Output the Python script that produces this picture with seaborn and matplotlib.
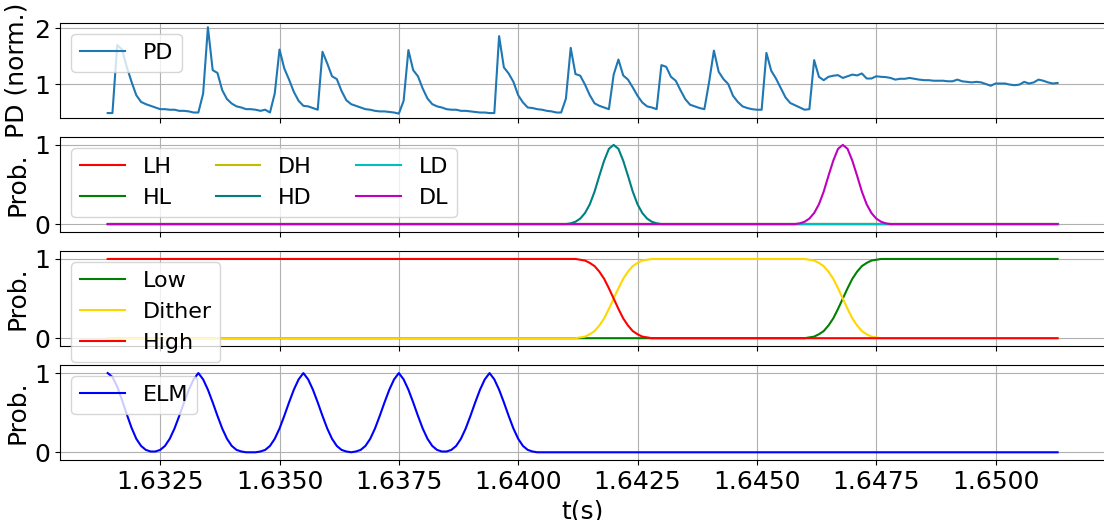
"""
Four stacked panels: PD signal, transition probabilities, state probabilities, ELM probability
"""
import matplotlib
matplotlib.use("Agg")
import matplotlib.pyplot as plt
import numpy as np
import seaborn as sns

# time axis (one sample every 0.1 ms)
t_start, t_end, n_pts = 1.6314, 1.6513, 200
t = np.linspace(t_start, t_end, n_pts)

# normalised photodiode signal
pd_norm = [0.48, 0.48, 1.70, 1.62, 1.31, 1.04, 0.80, 0.68, 0.64, 0.61,
           0.58, 0.55, 0.55, 0.54, 0.54, 0.52, 0.52, 0.51, 0.49, 0.49,
           0.83, 2.02, 1.25, 1.20, 0.89, 0.73, 0.65, 0.60, 0.58, 0.55,
           0.55, 0.54, 0.52, 0.54, 0.49, 0.83, 1.62, 1.28, 1.08, 0.86,
           0.70, 0.61, 0.60, 0.57, 0.54, 1.58, 1.37, 1.14, 1.09, 0.875,
           0.71, 0.64, 0.61, 0.58, 0.55, 0.54, 0.52, 0.51, 0.51, 0.50,
           0.49, 0.47, 0.70, 1.61, 1.25, 1.14, 0.92, 0.74, 0.64, 0.60,
           0.58, 0.55, 0.54, 0.54, 0.52, 0.52, 0.51, 0.50, 0.49, 0.49,
           0.48, 0.48, 1.86, 1.30, 1.19, 1.04, 0.80, 0.67, 0.58, 0.57,
           0.55, 0.54, 0.52, 0.51, 0.49, 0.49, 0.74, 1.65, 1.18, 1.15,
           0.99, 0.80, 0.655, 0.61, 0.58, 0.55, 1.17, 1.44, 1.155, 1.08,
           0.94, 0.79, 0.67, 0.60, 0.58, 0.55, 1.34, 1.31, 1.13, 1.06,
           0.89, 0.73, 0.63, 0.60, 0.57, 0.55, 1.04, 1.60, 1.22, 1.09,
           1.00, 0.79, 0.68, 0.60, 0.57, 0.55, 0.54, 0.54, 1.56, 1.24,
           1.10, 0.93, 0.76, 0.66, 0.62, 0.58, 0.54, 0.55, 1.43, 1.13,
           1.07, 1.13, 1.15, 1.16, 1.11, 1.14, 1.17, 1.155, 1.19, 1.10,
           1.10, 1.14, 1.13, 1.125, 1.11, 1.08, 1.095, 1.095, 1.11, 1.095,
           1.08, 1.07, 1.07, 1.06, 1.06, 1.06, 1.05, 1.05, 1.08, 1.05,
           1.04, 1.03, 1.04, 1.03, 1.00, 0.97, 1.01, 1.01, 1.01, 0.99,
           0.98, 0.99, 1.04, 1.01, 1.03, 1.08, 1.06, 1.03, 1.01, 1.02]

# shapes
elm_start = [1.0, 0.95, 0.83, 0.66, 0.48, 0.31, 0.17, 0.08, 0.03, 0.01]
elm_bump = [0.01, 0.03, 0.08, 0.17, 0.30, 0.46, 0.63, 0.79, 0.92, 1.0,
            0.92, 0.79, 0.63, 0.46, 0.30, 0.17, 0.08, 0.03, 0.01]
trans_bump = [0.01, 0.03, 0.07, 0.14, 0.25, 0.41, 0.61, 0.80, 0.95, 1.0,
              0.95, 0.80, 0.61, 0.41, 0.25, 0.14, 0.07, 0.03, 0.01]
rise = [0.0, 0.0, 0.01, 0.02, 0.05, 0.09, 0.16, 0.25, 0.37, 0.5,
        0.63, 0.75, 0.84, 0.91, 0.95, 0.98, 0.99, 1.0, 1.0]
fall = [1.0, 1.0, 0.99, 0.98, 0.95, 0.91, 0.84, 0.75, 0.63, 0.5,
        0.37, 0.25, 0.16, 0.09, 0.05, 0.02, 0.01, 0.0, 0.0]

# transition probabilities
p_lh = [0.0] * 200
p_hl = [0.0] * 200
p_dh = [0.0] * 200
p_hd = [0.0] * 97 + trans_bump + [0.0] * 84
p_ld = [0.0] * 200
p_dl = [0.0] * 145 + trans_bump + [0.0] * 36

# state probabilities
p_low = [0.0] * 145 + rise + [1.0] * 36
p_dither = [0.0] * 97 + rise + [1.0] * 29 + fall + [0.0] * 36
p_high = [1.0] * 97 + fall + [0.0] * 84

# ELM probability
p_elm = (elm_start + elm_bump + [0.0] * 3 + elm_bump + [0.0]
         + elm_bump + elm_bump + [0.0] * 110)

xtick_vals = [1.6325, 1.6350, 1.6375, 1.6400, 1.6425, 1.6450, 1.6475, 1.6500]

fig, axes = plt.subplots(4, 1, sharex=True, figsize=(11.04, 5.2), dpi=100)
fig.subplots_adjust(left=0.0545, right=1.001, top=0.956, bottom=0.115, hspace=0.2)

# PD
ax = axes[0]
sns.lineplot(x=t, y=pd_norm, ax=ax, color='#1f77b4', label='PD')
ax.set_yticks([1, 2])
ax.set_ylabel('PD (norm.)', fontsize=18)
ax.legend(loc='upper left', fontsize=16)

# transitions
ax = axes[1]
trans = [('LH', p_lh, 'red'), ('HL', p_hl, 'green'), ('DH', p_dh, 'y'),
         ('HD', p_hd, 'teal'), ('LD', p_ld, 'c'), ('DL', p_dl, 'm')]
for name, vals, col in trans:
    sns.lineplot(x=t, y=vals, ax=ax, color=col, label=name)
ax.set_ylabel('Prob.', fontsize=18)
ax.legend(loc='upper left', fontsize=16, ncol=3)

# states
ax = axes[2]
states = [('Low', p_low, 'green'), ('Dither', p_dither, 'gold'), ('High', p_high, 'red')]
for name, vals, col in states:
    sns.lineplot(x=t, y=vals, ax=ax, color=col, label=name)
ax.set_ylabel('Prob.', fontsize=18)
ax.legend(loc='upper left', fontsize=16)

# ELM
ax = axes[3]
sns.lineplot(x=t, y=p_elm, ax=ax, color='blue', label='ELM')
ax.set_ylabel('Prob.', fontsize=18)
ax.legend(loc='upper left', fontsize=16)
ax.set_xlabel('t(s)', fontsize=18)

for ax in axes[1:]:
    ax.set_ylim(-0.1, 1.1)
    ax.set_yticks([0, 1])

for ax in axes:
    ax.grid(True)
    ax.tick_params(axis='both', labelsize=18)
    ax.set_xticks(xtick_vals)

axes[3].set_xticklabels(['%.4f' % v for v in xtick_vals])

plt.savefig('out.png', dpi=100)
